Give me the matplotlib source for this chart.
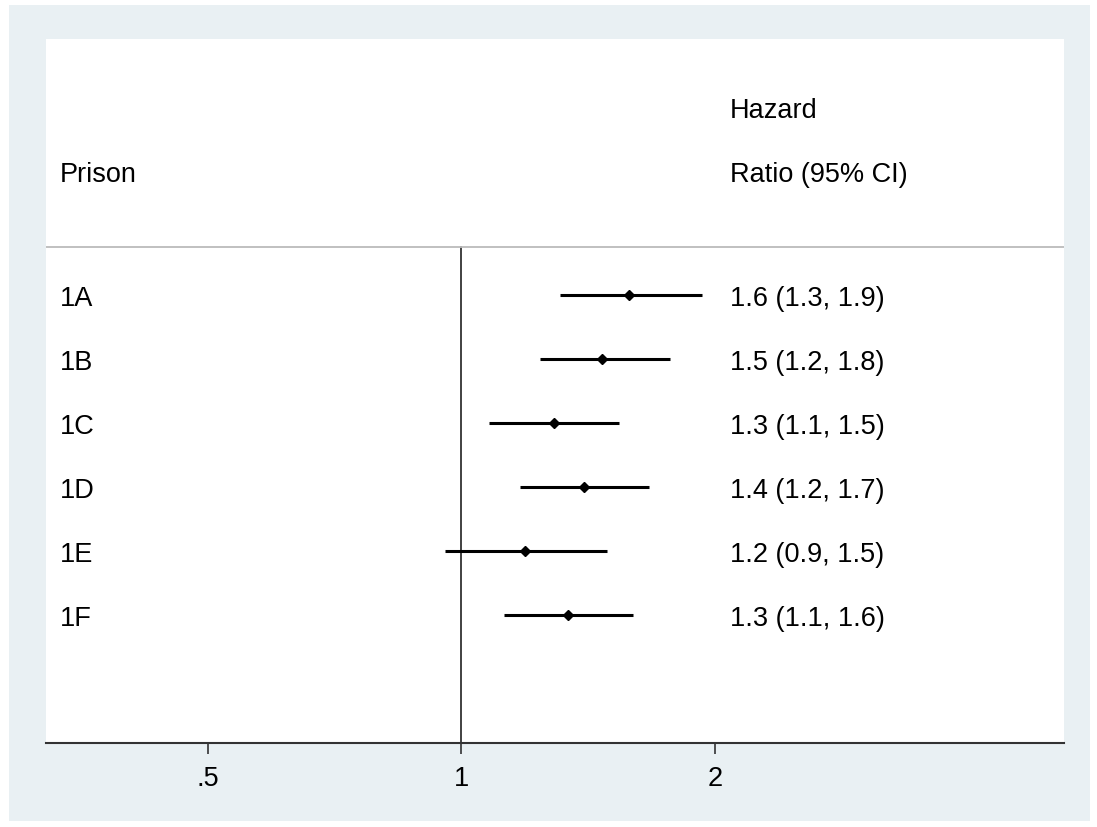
import numpy as np
import matplotlib.pyplot as plt
import matplotlib.patches as mpatches
import matplotlib.transforms as mtransforms

plt.rcParams['font.family'] = ['Liberation Sans', 'DejaVu Sans']

# Dados
prisoes = ['1A', '1B', '1C', '1D', '1E', '1F']
hr = [1.58, 1.47, 1.29, 1.40, 1.19, 1.34]
ic_inf = [1.31, 1.24, 1.08, 1.175, 0.957, 1.125]
ic_sup = [1.93, 1.77, 1.54, 1.67, 1.49, 1.60]
rotulos_hr = ['1.6 (1.3, 1.9)', '1.5 (1.2, 1.8)', '1.3 (1.1, 1.5)',
              '1.4 (1.2, 1.7)', '1.2 (0.9, 1.5)', '1.3 (1.1, 1.6)']
ticks_x = [0.5, 1, 2]
ticks_rot = ['.5', '1', '2']

W, H = 1097, 828
fig = plt.figure(figsize=(W / 100, H / 100), dpi=100)
fig.patch.set_facecolor('white')

# Moldura azul clara do fundo
fig.patches.append(mpatches.Rectangle((9 / W, 6 / H), (1090 - 9) / W, (822 - 6) / H,
                                      transform=fig.transFigure, facecolor='#e9f0f3',
                                      edgecolor='none', zorder=-10))

ax = fig.add_axes([46 / W, (H - 744) / H, (1064 - 46) / W, (744 - 40) / H])
ax.set_zorder(1)
ax.set_facecolor('white')
ax.set_xscale('log', base=2)
ax.set_xlim(0.321, 5.2)
ax.set_ylim(8, -3)

y = np.arange(1, len(prisoes) + 1)

# Linha de referencia em 1
ax.plot([1, 1], [0.25, 8], color='#333333', lw=1.3, zorder=2)
# Linha cinza abaixo do cabecalho
ax.axhline(0.25, color='#bbbbbb', lw=1.3, zorder=2)

# Intervalos de confianca e pontos
ax.hlines(y, ic_inf, ic_sup, color='black', lw=2.2, zorder=3)
ax.plot(hr, y, 'D', color='black', markersize=5, zorder=4)

# Textos
trans = mtransforms.blended_transform_factory(ax.transAxes, ax.transData)
fs = 19.5
x_esq = (60 - 46) / (1064 - 46)
x_dir = (730 - 46) / (1064 - 46)
dy = 0.05  # texto um pouco abaixo da linha
ax.text(x_esq, -0.94 + dy, 'Prison', transform=trans, fontsize=fs, va='center', ha='left')
ax.text(x_dir, -1.94 + dy, 'Hazard', transform=trans, fontsize=fs, va='center', ha='left')
ax.text(x_dir, -0.94 + dy, 'Ratio (95% CI)', transform=trans, fontsize=fs, va='center', ha='left')
for yi, p, r in zip(y, prisoes, rotulos_hr):
    ax.text(x_esq, yi + dy, p, transform=trans, fontsize=fs, va='center', ha='left')
    ax.text(x_dir, yi + dy, r, transform=trans, fontsize=fs, va='center', ha='left')

# Eixos
for s in ['top', 'left', 'right']:
    ax.spines[s].set_visible(False)
ax.spines['bottom'].set_color('#333333')
ax.spines['bottom'].set_linewidth(1.5)
ax.set_yticks([])
ax.set_xticks(ticks_x)
ax.set_xticklabels(ticks_rot)
ax.xaxis.set_minor_locator(plt.NullLocator())
ax.tick_params(axis='x', length=8, width=1.2, color='#333333', labelsize=fs, pad=8)

fig.savefig('out.png', dpi=100)
